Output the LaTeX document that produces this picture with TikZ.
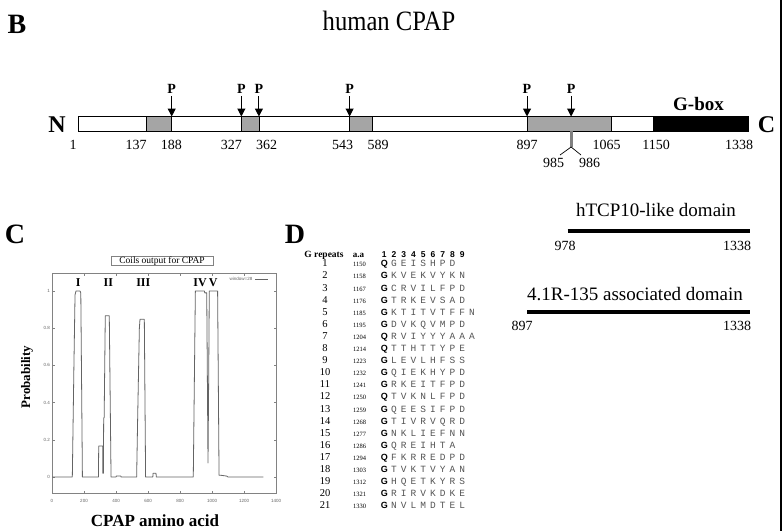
\documentclass[tikz,border=0pt]{standalone}
\usepackage{fontspec}
\setmainfont{Liberation Serif}
\setsansfont{Liberation Sans}
\setmonofont{Liberation Mono}
\usetikzlibrary{arrows.meta}
\definecolor{coilgray}{RGB}{165,165,165}
\definecolor{curvegray}{RGB}{100,100,100}
\definecolor{framegray}{RGB}{130,130,130}
\definecolor{lettergray}{RGB}{85,85,85}
\pgfmathdeclarefunction{aa}{1}{\pgfmathparse{78+(#1-1)*0.501122}}
\begin{document}
\begin{tikzpicture}[x=1pt,y=-1pt,
  num/.style={font=\fontsize{14}{14}\selectfont,anchor=base,inner sep=0pt},
  pl/.style={font=\bfseries\fontsize{14}{14}\selectfont,anchor=base,inner sep=0pt},
  panel/.style={font=\bfseries\fontsize{28}{28}\selectfont,anchor=base,inner sep=0pt},
  ends/.style={font=\bfseries\fontsize{24}{24}\selectfont,anchor=base,inner sep=0pt},
  ptr/.style={-{Triangle[width=8pt,length=8pt]},line width=1pt},
  coil/.style={fill=coilgray,draw=black,line width=0.8pt},
  dom/.style={font=\fontsize{19}{19}\selectfont,anchor=base,inner sep=0pt},
  domline/.style={line width=4pt},
  plotline/.style={draw=curvegray,line width=0.8pt},
  frm/.style={draw=framegray,line width=0.6pt},
  tk/.style={font=\sffamily\fontsize{4.5}{4.5}\selectfont,inner sep=0pt,text=curvegray},
  roman/.style={font=\bfseries\fontsize{12}{12}\selectfont,anchor=base,inner sep=0pt},
  rnum/.style={font=\fontsize{10.5}{10.5}\selectfont,anchor=base,inner sep=0pt},
  anum/.style={font=\fontsize{6.5}{6.5}\selectfont,anchor=base,inner sep=0pt},
  first/.style={font=\sffamily\bfseries\fontsize{9}{9}\selectfont,anchor=base,inner sep=0pt},
  rest/.style={font=\ttfamily\fontsize{9.5}{9.5}\selectfont,anchor=base,inner sep=0pt,text=lettergray},
  hdr/.style={font=\bfseries\fontsize{9.5}{9.5}\selectfont,anchor=base,inner sep=0pt},
  hdig/.style={font=\sffamily\bfseries\fontsize{8.5}{8.5}\selectfont,anchor=base,inner sep=0pt},
]
\useasboundingbox (0,0) rectangle (783,531);
\fill[white] (0,0) rectangle (783,531);
% right border
\coordinate (bt) at (781,0);
\coordinate (bb) at (781,531);
\draw[line width=2pt] (bt) -- (bb);

% ---------- Panel B ----------
\node[panel] (labB) at (17,33) {B};
\node[font=\fontsize{28}{28}\selectfont,anchor=base,inner sep=0pt,xscale=0.88] (title) at (389,30) {human CPAP};

\draw[line width=0.9pt,fill=white] (78,116) rectangle (748,131);
\draw[coil] ({aa(137)},116) rectangle ({aa(188)},131);
\draw[coil] ({aa(327)},116) rectangle ({aa(362)},131);
\draw[coil] ({aa(543)},116) rectangle ({aa(589)},131);
\draw[coil] ({aa(897)},116) rectangle ({aa(1065)},131);
\draw[fill=black,line width=0.8pt] ({aa(1150)},116) rectangle (748,131);

\node[ends] (nN) at (57,132.7) {N};
\node[ends] (nC) at (766.5,132.7) {C};
\node[font=\bfseries\fontsize{19}{19}\selectfont,anchor=base,inner sep=0pt] (gbox) at (698.5,110) {G-box};

\foreach \p [count=\k] in {188,327,362,543,897,985}{
  \coordinate (pt\k) at ({aa(\p)},96);
  \coordinate (pb\k) at ({aa(\p)},116.5);
  \node[pl] (P\k) at ({aa(\p)},93.3) {P};
  \draw[ptr] (pt\k) -- (pb\k);
}

\foreach \v/\xx in {1/73,137/136,188/171.3,327/231.3,362/266.7,543/342.7,589/378,897/527,1065/606.7,1150/656,1338/739}{
  \node[num] (n\v) at (\xx,149.3) {\v};
}
% 985/986 split
\coordinate (s985) at ({aa(985)},131);
\coordinate (m985) at ({aa(985)},147);
\coordinate (l985) at (560,155);
\coordinate (r985) at (581,155);
\draw[line width=3pt,draw=gray] (s985) -- (m985);
\draw[line width=0.7pt] (l985) -- (m985) -- (r985);
\node[num] (n985) at (553.5,167.3) {985};
\node[num] (n986) at (589.7,167.3) {986};

% ---------- Domains ----------
\node[dom] (dom1) at (656,216) {hTCP10-like domain};
\coordinate (d1a) at ({aa(978)},231.3);
\coordinate (d1b) at (750,231.3);
\draw[domline] (d1a) -- (d1b);
\node[num] (d1l) at (565,250) {978};
\node[num] (d1r) at (737,250) {1338};

\node[dom] (dom2) at (635,300) {4.1R-135 associated domain};
\coordinate (d2a) at ({aa(897)},312);
\coordinate (d2b) at (750,312);
\draw[domline] (d2a) -- (d2b);
\node[num] (d2l) at (522,330) {897};
\node[num] (d2r) at (737,330) {1338};

% ---------- Panel C ----------
\node[panel] (labC) at (15,243) {C};
\node[draw=framegray,line width=0.5pt,minimum width=102pt,minimum height=9pt,inner sep=0pt,font=\fontsize{9.5}{9.5}\selectfont] (ctitle) at (162,261.2) {Coils output for CPAP};
\draw[frm] (52,273) rectangle (276,493);
% ticks
\foreach \v in {0,200,...,1400}{
  \pgfmathsetmacro\tx{52+0.16*\v}
  \draw[frm] (\tx,493) -- (\tx,490.5);
  \draw[frm] (\tx,273) -- (\tx,275.5);
  \node[tk] (xt\v) at (\tx,501) {\v};
}
\foreach \v/\t in {0/0,0.2/0.2,0.4/0.4,0.6/0.6,0.8/0.8,1/1}{
  \pgfmathsetmacro\ty{477-186*\v}
  \draw[frm] (52,\ty) -- (54.5,\ty);
  \draw[frm] (276,\ty) -- (273.5,\ty);
  \node[tk,anchor=east] (yt\t) at (50,\ty) {\t};
}
\begin{scope}[shift={(52,477)},xscale=0.16,yscale=-186]
\draw[plotline,line join=round] plot coordinates {
(0,0) (127,0) (137,0.6) (144,0.98) (150,1) (175,1) (180,0.99) (185,0.5) (190,0)
(290,0) (292,0.167) (317,0.167) (318,0.02) (321,0.02) (323,0.317) (326,0.32) (333,0.867) (358,0.867) (369,0)
(400,0) (402,0.005) (430,0.005) (432,0)
(529,0) (535,0.3) (546,0.8) (550,0.848) (577,0.848) (585,0)
(630,0) (632,0.02) (650,0.02) (652,0)
(883,0) (896,1) (952,1) (955,0.99) (967,0.99) (975,0.075) (979,0.5) (983,1) (1035,1) (1044,0.01) (1050,0.01) (1092,0.005) (1100,0) (1321,0)};
\end{scope}
\node[roman] (rI) at (78.3,286.3) {I};
\node[roman] (rII) at (108.3,286.3) {II};
\node[roman] (rIII) at (143.3,286.3) {III};
\node[roman] (rIV) at (200,286.3) {IV};
\node[roman] (rV) at (213.3,286.3) {V};
\node[tk] (leg) at (241,279) {window=28};
\coordinate (lg1) at (255,279);
\coordinate (lg2) at (268,279);
\draw[plotline,line width=0.5pt] (lg1) -- (lg2);
\node[font=\bfseries\fontsize{13}{13}\selectfont,rotate=90,inner sep=0pt] (ylab) at (27,377) {Probability};
\node[font=\bfseries\fontsize{17}{17}\selectfont,anchor=base,inner sep=0pt] (xlab) at (155,526) {CPAP amino acid};

% ---------- Panel D ----------
\node[panel] (labD) at (295,243.3) {D};
\node[hdr] (hG) at (324,257.5) {G repeats};
\node[hdr,font=\bfseries\fontsize{9}{9}\selectfont] (haa) at (358.5,257.5) {a.a};
\foreach \d in {1,...,9}{
  \node[hdig] (hd\d) at ({384.3+9.75*(\d-1)},257.5) {\d};
}
\foreach \i/\a/\f/\s in {1/1150/Q/{G,E,I,S,H,P,D},2/1158/G/{K,V,E,K,V,Y,K,N},3/1167/G/{C,R,V,I,L,F,P,D},4/1176/G/{T,R,K,E,V,S,A,D},5/1185/G/{K,T,I,T,V,T,F,F,N},6/1195/G/{D,V,K,Q,V,M,P,D},7/1204/Q/{R,V,I,Y,Y,Y,A,A,A},8/1214/Q/{T,T,H,T,T,Y,P,E},9/1223/G/{L,E,V,L,H,F,S,S},10/1232/G/{Q,I,E,K,H,Y,P,D},11/1241/G/{R,K,E,I,T,F,P,D},12/1250/Q/{T,V,K,N,L,F,P,D},13/1259/G/{Q,E,E,S,I,F,P,D},14/1268/G/{T,I,V,R,V,Q,R,D},15/1277/G/{N,K,L,I,E,F,N,N},16/1286/G/{Q,R,E,I,H,T,A},17/1294/Q/{F,K,R,R,E,D,P,D},18/1303/G/{T,V,K,T,V,Y,A,N},19/1312/G/{H,Q,E,T,K,Y,R,S},20/1321/G/{R,I,R,V,K,D,K,E},21/1330/G/{N,V,L,M,D,T,E,L}}{
  \pgfmathsetmacro\yy{266.8+12.1*(\i-1)}
  \node[rnum] (rn\i) at (325,\yy) {\i};
  \node[anum] (an\i) at (359.5,\yy) {\a};
  \node[first] (fl\i) at (384.3,\yy) {\f};
  \foreach \c [count=\j from 2] in \s {
    \node[rest] (c\i-\j) at ({384.3+9.75*(\j-1)},\yy) {\c};
  }
}
\end{tikzpicture}
\end{document}
